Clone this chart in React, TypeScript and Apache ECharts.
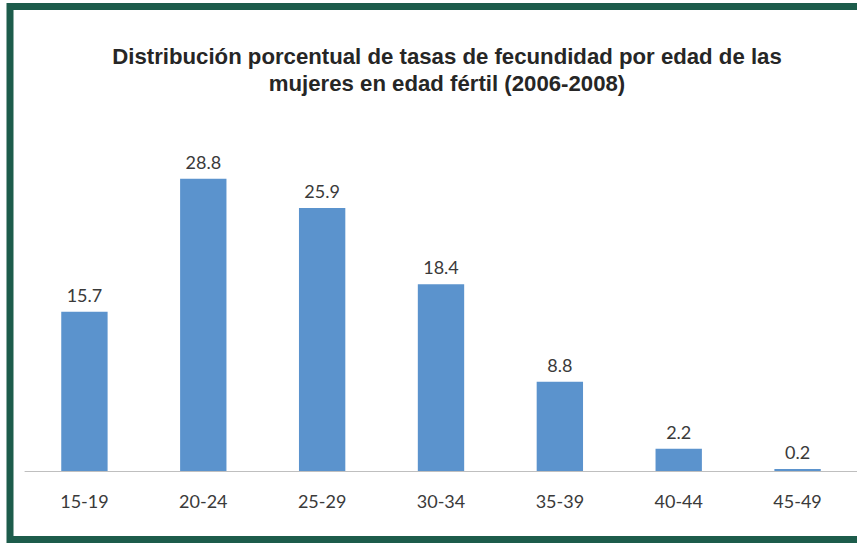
import React, { useEffect, useRef } from "react";
import * as echarts from "echarts";

const categories = ["15-19", "20-24", "25-29", "30-34", "35-39", "40-44", "45-49"];
const values = [15.7, 28.8, 25.9, 18.4, 8.8, 2.2, 0.2];
const titleText =
  "Distribución porcentual de tasas de fecundidad por edad de las\nmujeres en edad fértil (2006-2008)";

export default function App() {
  const ref = useRef<HTMLDivElement>(null);
  useEffect(() => {
    if (!ref.current) return;
    const chart = echarts.init(ref.current, undefined, { renderer: "svg" });
    chart.setOption({
      animation: false,
      backgroundColor: "#ffffff",
      title: {
        text: titleText,
        left: 442,
        textAlign: "center",
        top: 38,
        textStyle: {
          fontFamily: "Liberation Sans",
          fontWeight: "bold",
          fontSize: 22.2,
          lineHeight: 27,
          color: "#262626",
        },
      },
      grid: { left: 25, right: 0, top: 166.5, bottom: 72 },
      xAxis: {
        type: "category",
        data: categories,
        axisLine: { lineStyle: { color: "#bfbfbf", width: 1 } },
        axisTick: { show: false },
        axisLabel: {
          margin: 21,
          fontFamily: "Lato",
          fontSize: 18,
          color: "#3a3a3a",
        },
      },
      yAxis: {
        type: "value",
        min: 0,
        max: 30,
        show: false,
        splitLine: { show: false },
      },
      series: [
        {
          type: "bar",
          data: values,
          barCategoryGap: "61%",
          itemStyle: { color: "#5b93cd" },
          label: {
            show: true,
            position: "top",
            distance: 8,
            fontFamily: "Lato",
            fontSize: 18,
            color: "#3a3a3a",
            formatter: (p: any) => p.value.toFixed(1),
          },
        },
      ],
      graphic: [
        {
          type: "rect",
          shape: { x: 10, y: 6.5, width: 870, height: 533 },
          style: { fill: "none", stroke: "#1d5c4b", lineWidth: 7 },
          silent: true,
          z: 100,
        },
      ],
    });
    return () => chart.dispose();
  }, []);
  return (
    <div
      ref={ref}
      style={{ position: "fixed", left: 0, top: 0, width: 857, height: 543 }}
    />
  );
}
